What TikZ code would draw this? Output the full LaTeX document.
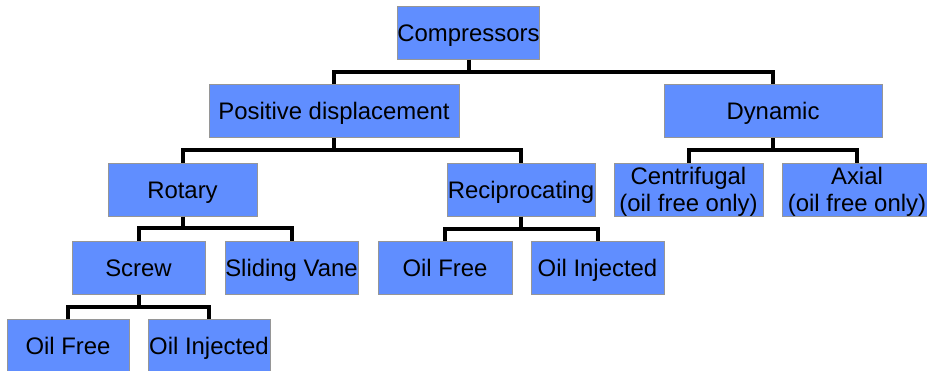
\documentclass[tikz,border=0pt]{standalone}
\usepackage{fontspec}
\setmainfont{Liberation Sans}
\definecolor{boxfill}{RGB}{96,142,255}
\definecolor{boxedge}{RGB}{150,150,150}
\begin{document}
\begin{tikzpicture}[x=1pt,y=-1pt,
  box/.style={draw=boxedge, line width=1pt, fill=boxfill, inner sep=0pt,
    minimum height=53pt, minimum width=#1,
    font=\fontsize{23.9}{27.5}\selectfont},
  single/.style={text height=17.1pt, text depth=0pt},
  double/.style={align=center, text depth=0pt},
  conn/.style={line width=4pt, black, line join=miter}]
\clip (0,0) rectangle (927,370);
\fill[white] (0,0) rectangle (927,370);

% level 0
\node[box=139pt, single] (cmp) at (468.5,32.5) {Compressors};
% level 1
\node[box=250pt, single] (pd)  at (334,111) {Positive displacement};
\node[box=218pt, single] (dyn) at (773,111) {Dynamic};
% level 2
\node[box=149pt, single] (rot) at (182.5,189.5) {Rotary};
\node[box=148pt, single] (rec) at (521,189.5) {Reciprocating};
\node[box=149pt, double] (cen) at (688.5,189.5) {Centrifugal\\(oil free only)};
\node[box=149pt, double] (ax)  at (857,189.5) {Axial\\(oil free only)};
% level 3
\node[box=133pt, single] (scr) at (138.5,267.5) {Screw};
\node[box=133pt, single] (sv)  at (291.5,267.5) {Sliding Vane};
\node[box=134pt, single] (rof) at (445,267.5) {Oil Free};
\node[box=133pt, single] (roi) at (597.5,267.5) {Oil Injected};
% level 4
\node[box=122pt, single] (sof) at (68,345.5) {Oil Free};
\node[box=122pt, single] (soi) at (209,345.5) {Oil Injected};

% tree connectors: parent stem, horizontal bus, drops to children
\draw[conn] (cmp.south) -- (cmp.south |- 0,72);
\draw[conn] (pd.north) -- (pd.north |- 0,72) -- (dyn.north |- 0,72) -- (dyn.north);

\draw[conn] (pd.south) -- (pd.south |- 0,150);
\draw[conn] (rot.north) -- (rot.north |- 0,150) -- (rec.north |- 0,150) -- (rec.north);

\draw[conn] (dyn.south) -- (dyn.south |- 0,150);
\draw[conn] (cen.north) -- (cen.north |- 0,150) -- (ax.north |- 0,150) -- (ax.north);

\draw[conn] (rot.south) -- (rot.south |- 0,228);
\draw[conn] (scr.north) -- (scr.north |- 0,228) -- (sv.north |- 0,228) -- (sv.north);

\draw[conn] (rec.south) -- (rec.south |- 0,229);
\draw[conn] (rof.north) -- (rof.north |- 0,229) -- (roi.north |- 0,229) -- (roi.north);

\draw[conn] (scr.south) -- (scr.south |- 0,307);
\draw[conn] (sof.north) -- (sof.north |- 0,307) -- (soi.north |- 0,307) -- (soi.north);
\end{tikzpicture}
\end{document}
